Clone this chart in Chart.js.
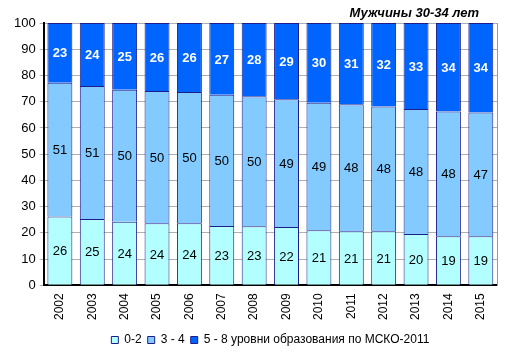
<!DOCTYPE html>
<html>
<head>
<meta charset="utf-8">
<script src="https://cdn.jsdelivr.net/npm/chart.js@4/dist/chart.umd.min.js"></script>
<style>
  html, body { margin: 0; padding: 0; background: #fff; }
  #wrap { width: 513px; height: 354px; }
</style>
</head>
<body>
<div id="wrap"><canvas id="graphe"></canvas></div>
<script>
const annees = ['2002','2003','2004','2005','2006','2007','2008','2009','2010','2011','2012','2013','2014','2015'];
const niveau02 = [26.2, 25.3, 24.2, 23.7, 23.7, 22.6, 22.5, 22.2, 21.0, 20.6, 20.6, 19.6, 18.7, 18.7];
const niveau34 = [51.0, 50.7, 50.4, 50.4, 50.0, 50.0, 49.6, 48.7, 48.6, 48.4, 47.6, 47.6, 47.6, 47.2];
const niveau58 = [22.8, 24.0, 25.4, 25.9, 26.3, 27.4, 27.9, 29.1, 30.4, 31.0, 31.8, 32.8, 33.7, 34.1];
const ticksY = [0, 10, 20, 30, 40, 50, 60, 70, 80, 90, 100];
const titre = 'Мужчины 30-34 лет';

const police = "Arial, 'Liberation Sans', sans-serif";

// étiquettes des valeurs au milieu de chaque segment
const etiquettes = {
  id: 'etiquettes',
  afterDatasetsDraw(chart) {
    const ctx = chart.ctx;
    ctx.save();
    ctx.textAlign = 'center';
    ctx.textBaseline = 'middle';
    chart.data.datasets.forEach((ds, i) => {
      const meta = chart.getDatasetMeta(i);
      meta.data.forEach((bar, j) => {
        const y = (bar.y + bar.base) / 2;
        if (i === 2) {
          ctx.fillStyle = '#ffffff';
          ctx.font = 'bold 13px ' + police;
        } else {
          ctx.fillStyle = '#000000';
          ctx.font = '13px ' + police;
        }
        ctx.fillText(Math.round(ds.data[j]), bar.x, y + 1);
      });
    });
    ctx.restore();
  }
};

// titre en haut à droite
const titreCoin = {
  id: 'titreCoin',
  afterDraw(chart) {
    const ctx = chart.ctx;
    ctx.save();
    ctx.font = 'italic bold 13px ' + police;
    ctx.fillStyle = '#000';
    ctx.textAlign = 'right';
    ctx.textBaseline = 'alphabetic';
    ctx.fillText(titre, chart.chartArea.right - 18, 17);
    ctx.restore();
  }
};

const bord = '#1E1E8A';

new Chart(document.getElementById('graphe'), {
  type: 'bar',
  data: {
    labels: annees,
    datasets: [
      { label: '0-2', data: niveau02, backgroundColor: '#B3FFFF', borderColor: bord, borderWidth: 1 },
      { label: '3 - 4', data: niveau34, backgroundColor: '#82CAFF', borderColor: bord, borderWidth: 1 },
      { label: '5 - 8 уровни образования по МСКО-2011', data: niveau58, backgroundColor: '#0064FF', borderColor: bord, borderWidth: 1 }
    ]
  },
  options: {
    responsive: true,
    maintainAspectRatio: false,
    animation: false,
    layout: { padding: { top: 23, left: 10, right: 16, bottom: -2 } },
    datasets: { bar: { categoryPercentage: 1, barPercentage: 0.77 } },
    scales: {
      x: {
        stacked: true,
        grid: { display: false, drawTicks: false },
        border: { color: '#000', width: 2 },
        ticks: {
          color: '#000',
          font: { family: police, size: 12 },
          minRotation: 90,
          maxRotation: 90,
          padding: 8
        }
      },
      y: {
        stacked: true,
        min: 0,
        max: 100,
        afterBuildTicks(axis) { axis.ticks = ticksY.map(v => ({ value: v })); },
        grid: { color: '#B0B0B0', tickLength: 4 },
        border: { color: '#000', width: 2 },
        ticks: { color: '#000', font: { family: police, size: 13 }, padding: 4 }
      },
      y2: {
        position: 'right',
        min: 0,
        max: 100,
        grid: { drawOnChartArea: false, drawTicks: false },
        border: { color: '#9A9A9A', width: 1 },
        ticks: { display: false }
      }
    },
    plugins: {
      legend: {
        position: 'bottom',
        fullSize: false,
        labels: {
          color: '#000',
          font: { family: police, size: 12 },
          boxWidth: 7,
          boxHeight: 7,
          padding: 6
        }
      },
      tooltip: { enabled: false }
    }
  },
  plugins: [etiquettes, titreCoin]
});
</script>
</body>
</html>
